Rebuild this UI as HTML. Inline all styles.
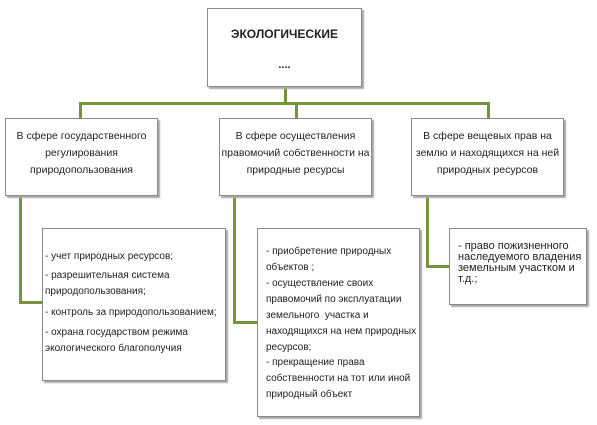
<!DOCTYPE html>
<html><head><meta charset="utf-8"><style>
body{margin:0;width:597px;height:425px;background:#fff;position:relative;overflow:hidden;font-family:"Liberation Sans",Arial,sans-serif;color:#222}
.b{position:absolute;background:#fff;border:1px solid #8a8a8a;box-shadow:2px 2px 1px #aaa;box-sizing:border-box}
.l{position:absolute;background:#77933c}
.t{position:absolute;font-size:10px;white-space:nowrap;letter-spacing:0}
.c{text-align:center;font-size:10.5px;line-height:17px;position:absolute;left:0;right:0}
</style></head><body>
<div class="l" style="left:284px;top:86px;width:3px;height:19px"></div>
<div class="l" style="left:79px;top:102px;width:411px;height:3px"></div>
<div class="l" style="left:79px;top:102px;width:3px;height:16px"></div>
<div class="l" style="left:295px;top:102px;width:3px;height:16px"></div>
<div class="l" style="left:487px;top:102px;width:3px;height:16px"></div>
<div class="l" style="left:19px;top:195px;width:3px;height:109px"></div>
<div class="l" style="left:19px;top:301px;width:24px;height:3px"></div>
<div class="l" style="left:233px;top:195px;width:3px;height:129px"></div>
<div class="l" style="left:233px;top:321px;width:25px;height:3px"></div>
<div class="l" style="left:426px;top:195px;width:3px;height:73px"></div>
<div class="l" style="left:426px;top:265px;width:24px;height:3px"></div>

<div class="b" style="left:207px;top:8px;width:155px;height:79px">
<div style="position:absolute;left:0;right:0;top:18px;text-align:center;font-weight:bold;font-size:12px">ЭКОЛОГИЧЕСКИЕ</div>
<div style="position:absolute;left:0;right:0;top:50px;text-align:center;font-size:11px;font-weight:bold">....</div>
</div>

<div class="b" style="left:5px;top:118px;width:153px;height:78px"><div class="c" style="top:9px">В сфере государственного<br>регулирования<br>природопользования</div></div>
<div class="b" style="left:219px;top:118px;width:153px;height:78px"><div class="c" style="top:9px">В сфере осуществления<br>правомочий собственности на<br>природные ресурсы</div></div>
<div class="b" style="left:411px;top:118px;width:153px;height:78px"><div class="c" style="top:9px">В сфере вещевых прав на<br>землю и находящихся на ней<br>природных ресурсов</div></div>

<div class="b" style="left:42px;top:228px;width:184px;height:153px">
<div class="t" style="left:2px;top:22px">- учет природных ресурсов;</div>
<div class="t" style="left:2px;top:41px">- разрешительная система</div>
<div class="t" style="left:2px;top:57px">природопользования;</div>
<div class="t" style="left:2px;top:78px">- контроль за природопользованием;</div>
<div class="t" style="left:2px;top:98px">- охрана государством режима</div>
<div class="t" style="left:2px;top:114px">экологического благополучия</div>
</div>

<div class="b" style="left:257px;top:228px;width:163px;height:189px">
<div class="t" style="left:8px;top:17px">- приобретение природных</div>
<div class="t" style="left:8px;top:33px">объектов ;</div>
<div class="t" style="left:8px;top:49px">- осуществление своих</div>
<div class="t" style="left:8px;top:65px">правомочий по эксплуатации</div>
<div class="t" style="left:8px;top:81px">земельного&nbsp; участка и</div>
<div class="t" style="left:8px;top:97px">находящихся на нем природных</div>
<div class="t" style="left:8px;top:113px">ресурсов;</div>
<div class="t" style="left:8px;top:128px">- прекращение права</div>
<div class="t" style="left:8px;top:144px">собственности на тот или иной</div>
<div class="t" style="left:8px;top:160px">природный объект</div>
</div>

<div class="b" style="left:449px;top:228px;width:138px;height:77px;overflow:hidden">
<div style="position:absolute;left:8px;top:12px;font-size:11px;line-height:11px;white-space:nowrap">- право пожизненного<br>наследуемого владения<br>земельным участком и<br>т.д.;</div>
</div>
</body></html>
